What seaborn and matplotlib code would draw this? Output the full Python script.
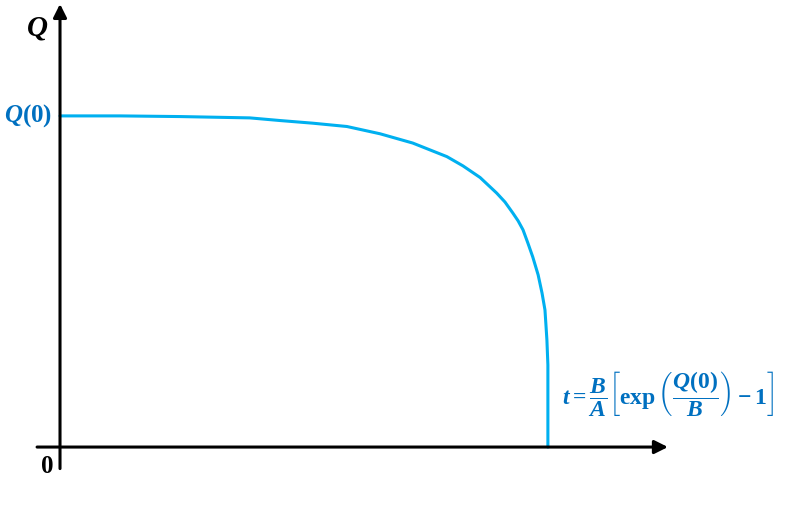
import matplotlib
matplotlib.use("Agg")
import matplotlib.pyplot as plt
import seaborn as sns
import pandas as pd

# curve: t scaled so the end is 1, Q scaled so Q(0) is 1
t_vals = [0, 0.123, 0.246, 0.389, 0.451, 0.518, 0.588, 0.656, 0.723, 0.793,
          0.826, 0.861, 0.895, 0.912, 0.928, 0.939, 0.949, 0.959, 0.969,
          0.980, 0.988, 0.994, 0.996, 0.998, 1.0, 1.0, 1.0]
q_vals = [1.0, 1.0, 0.998, 0.994, 0.986, 0.978, 0.968, 0.946, 0.918, 0.877,
          0.849, 0.814, 0.767, 0.740, 0.707, 0.683, 0.656, 0.616, 0.574,
          0.520, 0.465, 0.414, 0.369, 0.323, 0.248, 0.172, 0.0]

sns.set_style("white")
plt.rcParams['font.family'] = ['Liberation Serif', 'DejaVu Serif']
plt.rcParams['mathtext.fontset'] = 'custom'
plt.rcParams['mathtext.rm'] = 'Liberation Serif:bold'
plt.rcParams['mathtext.it'] = 'Liberation Serif:bold:italic'
plt.rcParams['mathtext.bf'] = 'Liberation Serif:bold'

curve_col = '#00b0f0'
text_col = '#0070c0'

df = pd.DataFrame({'t': t_vals, 'Q': q_vals})

fig = plt.figure(figsize=(7.85, 5.05), dpi=100)
ax = fig.add_axes([0, 0, 1, 1])
sns.lineplot(data=df, x='t', y='Q', sort=False, estimator=None, ax=ax,
             color=curve_col, lw=2.2, solid_joinstyle='round')

ax.set_xlim(-0.123, 1.486)
ax.set_ylim(-0.175, 1.350)
ax.axis('off')

# axes with arrows
ax.annotate('', xy=(0, 1.338), xytext=(0, -0.065),
            arrowprops=dict(arrowstyle='-|>', lw=2.2, color='black',
                            mutation_scale=20, shrinkA=0, shrinkB=0))
ax.annotate('', xy=(1.246, 0), xytext=(-0.047, 0),
            arrowprops=dict(arrowstyle='-|>', lw=2.2, color='black',
                            mutation_scale=20, shrinkA=0, shrinkB=0))

ax.text(-0.047, 1.265, 'Q', fontsize=21, fontweight='bold', style='italic',
        ha='center', va='center', color='black')
ax.text(-0.017, 1.0, r'$Q(0)$', fontsize=18, ha='right', va='center',
        color=text_col)
ax.text(-0.027, -0.06, '0', fontsize=18, fontweight='bold', ha='center',
        va='center', color='black')
ax.text(1.028, 0.16,
        r'$t=\dfrac{B}{A}\left[\exp\left(\dfrac{Q(0)}{B}\right)-1\right]$',
        fontsize=17, ha='left', va='center', color=text_col)

fig.savefig('out.png', dpi=100)
